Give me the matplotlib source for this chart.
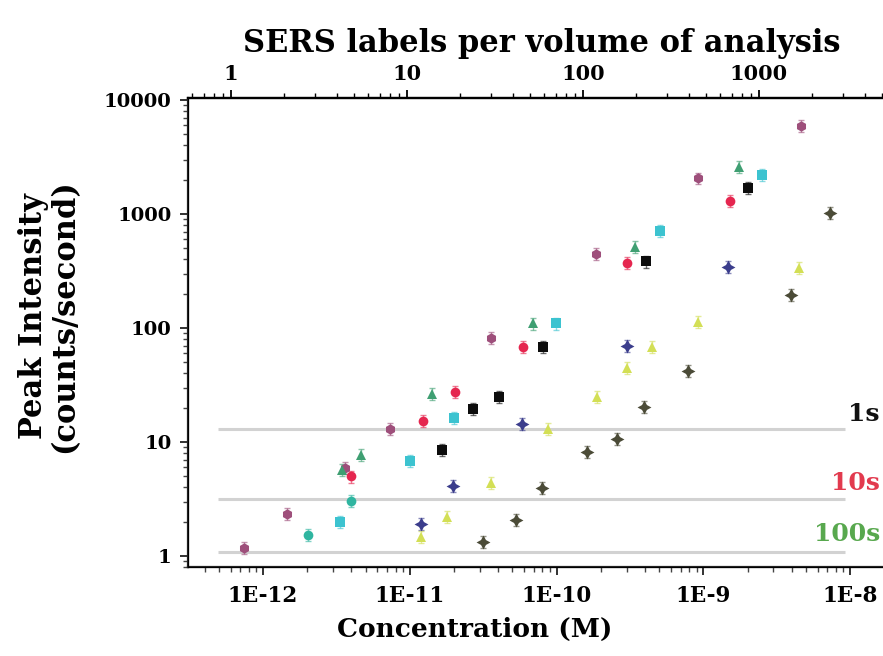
import matplotlib
matplotlib.use("Agg")
import matplotlib.pyplot as plt
from matplotlib.ticker import LogLocator, NullFormatter, FixedLocator, FixedFormatter

# ---- data: concentration (M) vs peak intensity (counts/second) ----
mauve_x = [7.4e-13, 1.46e-12, 3.62e-12, 7.35e-12, 3.6e-11, 1.86e-10, 9.2e-10, 4.6e-9]
mauve_y = [1.18, 2.33, 5.9, 13.0, 82, 445, 2060, 5900]

red_x = [4.0e-12, 1.23e-11, 2.04e-11, 5.9e-11, 3.03e-10, 1.52e-9]
red_y = [5.0, 15.3, 27.5, 68, 372, 1300]

green_x = [3.45e-12, 4.66e-12, 1.42e-11, 6.9e-11, 3.45e-10, 1.74e-9]
green_y = [5.7, 7.7, 26.3, 110, 515, 2600]

teal_x = [2.03e-12, 3.98e-12]
teal_y = [1.53, 3.04]

cyan_x = [3.35e-12, 1.0e-11, 2.0e-11, 9.9e-11, 5.1e-10, 2.53e-9]
cyan_y = [1.99, 6.8, 16.2, 110, 710, 2200]

black_x = [1.66e-11, 2.7e-11, 4.06e-11, 8.1e-11, 4.08e-10, 2.0e-9]
black_y = [8.5, 19.5, 24.8, 68, 385, 1690]

navy_x = [1.19e-11, 1.97e-11, 5.83e-11, 3.0e-10, 1.47e-9]
navy_y = [1.91, 4.11, 14.5, 69.5, 344]

yellow_x = [1.19e-11, 1.79e-11, 3.58e-11, 8.75e-11, 1.89e-10, 3.03e-10, 4.5e-10, 9.2e-10, 4.5e-9]
yellow_y = [1.47, 2.2, 4.37, 13.0, 24.8, 44.7, 68, 113, 335]

olive_x = [3.16e-11, 5.3e-11, 8.0e-11, 1.62e-10, 2.58e-10, 3.97e-10, 7.9e-10, 3.96e-9, 7.3e-9]
olive_y = [1.33, 2.07, 3.95, 8.17, 10.6, 20.3, 41.9, 195, 1020]

# relative uncertainty of each series
rel_err = 0.12

# detection thresholds for integration times
threshold_levels = [13.0, 3.16, 1.08]
threshold_labels = ["1s", "10s", "100s"]
threshold_colors = ["#111111", "#e23a4e", "#58a84e"]

top_ticks = [1, 10, 100, 1000]
top_ticklabels = ["1", "10", "100", "1000"]
bottom_ticks = [1e-12, 1e-11, 1e-10, 1e-9, 1e-8]
bottom_ticklabels = ["1E-12", "1E-11", "1E-10", "1E-9", "1E-8"]
left_ticks = [1, 10, 100, 1000, 10000]
left_ticklabels = ["1", "10", "100", "1000", "10000"]

FONT = "DejaVu Serif"
W, H = 883, 656

fig = plt.figure(figsize=(W / 100, H / 100), dpi=100)
ax = fig.add_axes([188 / W, 89 / H, 694 / W, 469 / H])
ax_w, ax_h = 694, 469

ax.set_xscale("log")
ax.set_yscale("log")
ax.set_xlim(3.08e-13, 1.65e-8)
ax.set_ylim(0.80, 10400)

# threshold lines
for lvl in threshold_levels:
    ax.plot([4.9e-13, 9.3e-9], [lvl, lvl], color="#d2d2d2", lw=2.2, zorder=1,
            solid_capstyle="butt")

series = [
    (mauve_x, mauve_y, "#9e4f7b", "h", 7.5),
    (teal_x, teal_y, "#2fb5a0", "o", 7.0),
    (cyan_x, cyan_y, "#3cc3d0", "s", 6.5),
    (green_x, green_y, "#3f9f72", "^", 7.5),
    (red_x, red_y, "#e5264f", "o", 7.0),
    (black_x, black_y, "#0d0d0d", "s", 6.5),
    (navy_x, navy_y, "#3b3d8c", (4, 1, 0), 10.0),
    (yellow_x, yellow_y, "#d3df55", "^", 7.5),
    (olive_x, olive_y, "#4b4b37", (4, 1, 0), 10.0),
]

for xs, ys, col, mk, ms in series:
    errs = [v * rel_err for v in ys]
    ax.errorbar(xs, ys, yerr=errs, fmt="none", ecolor=col, elinewidth=1.0,
                capsize=2.0, alpha=0.6, zorder=2)
    ax.plot(xs, ys, linestyle="none", marker=mk, color=col, markersize=ms,
            markeredgewidth=0, zorder=3)

# threshold labels on the right
label_y = [17.5, 4.35, 1.55]
for lvl_y, txt, col in zip(label_y, threshold_labels, threshold_colors):
    ax.text(0.997, lvl_y, txt, transform=ax.get_yaxis_transform(), ha="right",
            va="center", color=col, fontsize=18, fontweight="bold", family=FONT)

# axes styling
ax.spines["right"].set_visible(False)
for side in ["left", "bottom", "top"]:
    ax.spines[side].set_linewidth(1.6)
    ax.spines[side].set_color("#222222")

ax.xaxis.set_major_locator(FixedLocator(bottom_ticks))
ax.xaxis.set_major_formatter(FixedFormatter(bottom_ticklabels))
ax.xaxis.set_minor_locator(LogLocator(base=10, subs=range(2, 10), numticks=20))
ax.xaxis.set_minor_formatter(NullFormatter())
ax.yaxis.set_major_locator(FixedLocator(left_ticks))
ax.yaxis.set_major_formatter(FixedFormatter(left_ticklabels))
ax.yaxis.set_minor_locator(LogLocator(base=10, subs=range(2, 10), numticks=20))
ax.yaxis.set_minor_formatter(NullFormatter())

ax.tick_params(which="major", direction="out", length=6, width=1.3, color="#222222")
ax.tick_params(which="minor", direction="out", length=3.5, width=1.0, color="#444444")
ax.tick_params(axis="x", which="major", labelsize=15.5, pad=7)
ax.tick_params(axis="y", which="major", labelsize=14, pad=6)
for lab in ax.get_xticklabels() + ax.get_yticklabels():
    lab.set_fontweight("bold")
    lab.set_family(FONT)
ax.tick_params(top=False, right=False)

ax.set_xlabel("Concentration (M)", fontsize=19, fontweight="bold", family=FONT)
ax.xaxis.set_label_coords((475 - 188) / ax_w, -(617 - 567) / ax_h)
ax.set_ylabel("Peak Intensity\n(counts/second)", fontsize=22, fontweight="bold",
              family=FONT, linespacing=1.0)
ax.yaxis.set_label_coords(-(188 - 80) / ax_w, (567 - 316) / ax_h)

# secondary axis: number of labels in the probed volume
tax = ax.twiny()
tax.set_xscale("log")
tax.set_xlim(0.570, 5000)
tax.spines["right"].set_visible(False)
tax.spines["top"].set_linewidth(1.6)
tax.xaxis.set_major_locator(FixedLocator(top_ticks))
tax.xaxis.set_major_formatter(FixedFormatter(top_ticklabels))
tax.xaxis.set_minor_locator(LogLocator(base=10, subs=range(2, 10), numticks=20))
tax.xaxis.set_minor_formatter(NullFormatter())
tax.tick_params(which="major", direction="out", length=6, width=1.3, labelsize=15, pad=4)
tax.tick_params(which="minor", direction="out", length=3.5, width=1.0)
for lab in tax.get_xticklabels():
    lab.set_fontweight("bold")
    lab.set_family(FONT)
tax.set_xlabel("SERS labels per volume of analysis", fontsize=22, fontweight="bold",
               family=FONT)
tax.xaxis.set_label_coords((542 - 188) / ax_w, 1 + (98 - 52) / ax_h)

fig.savefig("out.png", dpi=100)
